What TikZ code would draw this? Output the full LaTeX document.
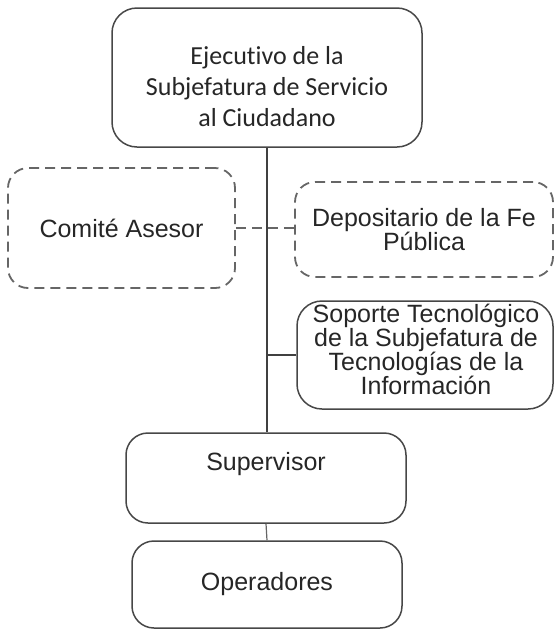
\documentclass[tikz,border=0pt]{standalone}
\usepackage{fontspec}
\setmainfont{Liberation Sans}
\newfontfamily\calibrifont[Ligatures=NoCommon]{Carlito}
\usetikzlibrary{shapes,arrows}

\begin{document}
\begin{tikzpicture}[x=1pt,y=-1pt,
	caja/.style={draw=black!72, line width=1.5pt, rounded corners=22pt, inner sep=0pt},
	cajapunteada/.style={draw=black!60, line width=1.8pt, dash pattern=on 10pt off 6pt, rounded corners=20pt, inner sep=0pt},
	texto/.style={font=\fontsize{25}{24}\selectfont, align=center, text=black!85}]
	\useasboundingbox (0,0) rectangle (554,630);
	% cajas
	\node[caja, minimum width=310, minimum height=139, rounded corners=25pt] (ejecutivo) at (267,77.5) {};
	\node[font=\calibrifont\fontsize{26}{31}\selectfont, align=center, text=black!85] (ejecutivoT) at (267,87) {Ejecutivo de la\\Subjefatura de Servicio\\al Ciudadano};
	\node[cajapunteada, texto, minimum width=227, minimum height=120] (comite) at (121.5,228) {Comité Asesor};
	\node[cajapunteada, texto, minimum width=258, minimum height=95] (depositario) at (424,229.5) {Depositario de la Fe\\Pública};
	\node[caja, minimum width=256, minimum height=108, rounded corners=25pt] (soporte) at (425,355) {};
	\node[texto] (soporteT) at (426,349) {Soporte Tecnológico\\de la Subjefatura de\\Tecnologías de la\\Información};
	\node[caja, minimum width=280, minimum height=90] (supervisor) at (266,478) {};
	\node[texto] (supervisorT) at (266,464) {Supervisor};
	\node[caja, texto, minimum width=270, minimum height=87] (operadores) at (267,584.5) {Operadores};
	% lineas
	\draw[line width=2pt, black!75] (ejecutivo.south) -- (ejecutivo.south |- supervisor.north);
	\draw[line width=1.8pt, black!60, dash pattern=on 10pt off 6pt] (comite.east) -- (comite.east -| depositario.west);
	\draw[line width=1.6pt, black!75] (soporte.west) -- (soporte.west -| ejecutivo.south);
	\draw[line width=1.2pt, black!60] (supervisor.south) -- (operadores.north);
\end{tikzpicture}
\end{document}
